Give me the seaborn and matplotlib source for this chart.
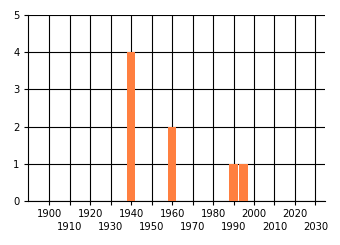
import matplotlib
matplotlib.use("Agg")
import matplotlib.pyplot as plt
import seaborn as sns
import pandas as pd

years = [1940, 1960, 1990, 1995]
counts = [4, 2, 1, 1]
tick_years = list(range(1900, 2031, 10))
y_ticks = [0, 1, 2, 3, 4, 5]

sns.set_theme(style="white")
plt.rcParams['font.family'] = ['DejaVu Sans']

fig = plt.figure(figsize=(3.4, 2.45), dpi=100)
ax = fig.add_axes([28/340, 1-201/245, (325-28)/340, (201-15)/245])

df = pd.DataFrame({"year": years, "count": counts})
sns.barplot(data=df, x="year", y="count", native_scale=True, width=0.84,
            color="#FF7F3F", saturation=1, ax=ax, zorder=3, linewidth=0,
            edgecolor="none")

ax.set_xlim(1889.6, 2034.7)
ax.set_ylim(0, 5)
even = tick_years[0::2]
odd = tick_years[1::2]
ax.set_xticks(even)
ax.set_xticklabels([str(y) for y in even])
ax.set_xticks(odd, minor=True)
ax.set_xticklabels([str(y) for y in odd], minor=True)
ax.set_yticks(y_ticks)
ax.set_yticklabels([str(v) for v in y_ticks])
ax.grid(True, which="both", axis="x", color="black", linewidth=0.8, zorder=0)
ax.grid(True, which="major", axis="y", color="black", linewidth=0.8, zorder=0)
ax.set_axisbelow(True)
for s in ["top", "right"]:
    ax.spines[s].set_visible(False)
for s in ["left", "bottom"]:
    ax.spines[s].set_color("black")
    ax.spines[s].set_linewidth(0.8)
ax.tick_params(axis="both", which="both", length=3, width=0.8, color="black",
               labelsize=7.2, labelcolor="black", direction="out",
               bottom=True, left=True)
ax.tick_params(axis="x", which="major", pad=3)
ax.tick_params(axis="x", which="minor", pad=12)
ax.tick_params(axis="y", pad=3)
ax.set_xlabel("")
ax.set_ylabel("")
ax.set_facecolor("white")
fig.patch.set_facecolor("white")
fig.savefig("out.png", dpi=100)
